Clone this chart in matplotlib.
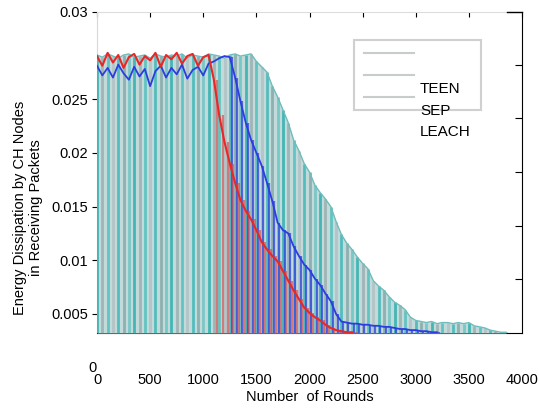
import numpy as np
import matplotlib.pyplot as plt
from matplotlib.patches import Rectangle

plt.rcParams['font.family'] = ['Liberation Sans', 'DejaVu Sans']

teen_rounds = np.arange(0, 3851, 50)
teen_energy = [
    0.0291, 0.0289, 0.0292, 0.0290, 0.0288, 0.0291, 0.0292, 0.0289, 0.0290, 0.0291,
    0.0288, 0.0292, 0.0290, 0.0289, 0.0291, 0.0290, 0.0292, 0.0288, 0.0291, 0.0290,
    0.0289, 0.0292, 0.0291, 0.0290, 0.0288, 0.0291, 0.0292, 0.0290, 0.0291,
    0.0292, 0.0285, 0.0280, 0.0275, 0.0262, 0.0252, 0.0240, 0.0228, 0.0212, 0.0202,
    0.0190, 0.0182, 0.0170, 0.0163, 0.0157, 0.0150, 0.0136, 0.0124, 0.0116, 0.0110,
    0.0103, 0.0097, 0.0092, 0.0081, 0.0076, 0.0072, 0.0066, 0.0061, 0.0058, 0.0054,
    0.0047, 0.0044, 0.0043, 0.0042, 0.0043, 0.0041, 0.0042, 0.0042, 0.0041, 0.0042,
    0.0041, 0.0042, 0.0039, 0.0038, 0.0037, 0.0035, 0.0034, 0.0033, 0.0033,
]

# SEP (azul)
sep_rounds = np.arange(0, 3201, 50)
sep_energy = [
    0.0281, 0.0272, 0.0279, 0.0270, 0.0282, 0.0274, 0.0268, 0.0280, 0.0271, 0.0278,
    0.0262, 0.0276, 0.0281, 0.0270, 0.0279, 0.0273, 0.0282, 0.0269, 0.0277, 0.0280,
    0.0272, 0.0283, 0.0285, 0.0288, 0.0290,
    0.0289, 0.0270, 0.0248, 0.0228, 0.0212, 0.0200, 0.0188, 0.0172, 0.0155, 0.0135,
    0.0128, 0.0125, 0.0113, 0.0104, 0.0096, 0.0091, 0.0083, 0.0077, 0.0069, 0.0062,
    0.0050, 0.0043, 0.0042, 0.0041, 0.0041, 0.0040, 0.0040, 0.0039, 0.0039, 0.0038,
    0.0038, 0.0037, 0.0036, 0.0036, 0.0035, 0.0035, 0.0034, 0.0034, 0.0033, 0.0033,
]
sep_drop_start = 1250

# LEACH (vermelho)
leach_rounds = np.arange(0, 2401, 50)
leach_energy = [
    0.0290, 0.0281, 0.0293, 0.0284, 0.0291, 0.0279, 0.0289, 0.0292, 0.0282, 0.0290,
    0.0286, 0.0293, 0.0280, 0.0291, 0.0287, 0.0293, 0.0283, 0.0290, 0.0292, 0.0281,
    0.0289, 0.0291,
    0.0268, 0.0235, 0.0210, 0.0190, 0.0172, 0.0156, 0.0146, 0.0138, 0.0128, 0.0117,
    0.0110, 0.0104, 0.0099, 0.0090, 0.0081, 0.0072, 0.0064, 0.0056, 0.0051, 0.0047,
    0.0044, 0.0040, 0.0037, 0.0035, 0.0034, 0.0033, 0.0033,
]
leach_drop_start = 1100

y_ticks = [0.005, 0.01, 0.015, 0.02, 0.025]
y_tick_labels = ['0.005', '0.01', '0.015', '0.02', '0.025']
right_ticks = [0.00827, 0.0132, 0.01823, 0.02326, 0.02819]
x_ticks = [0, 500, 1000, 1500, 2000, 2500, 3000, 3500, 4000]

ybot, ytop = 0.00323, 0.0331

fig = plt.figure(figsize=(5.39, 4.08), dpi=100)
ax = fig.add_axes([97 / 539, 75 / 408, 425 / 539, 321 / 408])
ax.set_xlim(0, 4000)
ax.set_ylim(ybot, ytop)

# fundo das barras do TEEN
ax.fill_between(teen_rounds, ybot, teen_energy, color='#c2dada', lw=0, zorder=2.6)

# hastes TEEN
cores_teen = ['#45b5b5', '#a0b6b6', '#62c4c2', '#b4c4c8', '#55bcbc', '#8fb0b0', '#78c8c6']
cols = [cores_teen[i % len(cores_teen)] for i in range(len(teen_rounds))]
ax.vlines(teen_rounds, ybot, teen_energy, colors=cols, lw=2.0, zorder=3)

# hastes SEP
sep_r = np.array(sep_rounds)
sep_e = np.array(sep_energy)
m = sep_r >= sep_drop_start
ax.vlines(sep_r[m] + 17, ybot, sep_e[m], colors='#2a3fe0', lw=1.6, alpha=0.75, zorder=3.1)

# hastes LEACH
leach_r = np.array(leach_rounds)
leach_e = np.array(leach_energy)
m = leach_r >= leach_drop_start
ax.vlines(leach_r[m] + 33, ybot, leach_e[m], colors='#d84848', lw=1.6, alpha=0.65, zorder=3.2)

# contornos
ax.plot(teen_rounds, teen_energy, color='#70bcbc', lw=1.0, zorder=3.3)
ax.plot(sep_rounds, sep_energy, color='#2b3de0', lw=1.3, zorder=3.4)
ax.plot(leach_rounds, leach_energy, color='#e82828', lw=1.5, zorder=3.5)

# eixos
ax.set_yticks(y_ticks + [ytop])
ax.set_yticklabels(y_tick_labels + ['0.03'], fontsize=10.5)
for t in ax.yaxis.get_major_ticks():
    t.tick1line.set_visible(False)
ax.tick_params(axis='y', pad=3)

ax.set_xticks(x_ticks)
ax.set_xticklabels([str(v) for v in x_ticks], fontsize=10.5)
ax.tick_params(axis='x', top=True, direction='in', length=3.5, width=0.8, pad=29)
for t in ax.xaxis.get_major_ticks():
    t.tick1line.set_visible(False)

ax2 = ax.twinx()
ax2.set_ylim(ybot, ytop)
ax2.set_yticks(right_ticks)
ax2.set_yticklabels([])
ax2.tick_params(axis='y', direction='in', length=5, width=0.8)
for s in ax2.spines.values():
    s.set_visible(False)

ax.spines['left'].set_color('#d8d8d8')
ax.spines['top'].set_color('#dddddd')
ax.spines['right'].set_color('black')
ax.spines['bottom'].set_color('black')
ax.plot([0.965, 1.0], [1.0, 1.0], transform=ax.transAxes, color='black', lw=1, clip_on=False, zorder=5)

ax.set_xlabel('Number  of Rounds', fontsize=10.5, labelpad=2)
fig.text(28 / 539, 1 - 208 / 408, 'Energy Dissipation by CH Nodes\nin Receiving Packets',
         rotation=90, ha='center', va='center', fontsize=10.5, multialignment='center')
fig.text(97 / 539, 1 - 368 / 408, '0', ha='right', va='center', fontsize=10.5)

# legenda (desenhada a mao, com os textos deslocados como no original)
ax.add_patch(Rectangle((0.605, 0.695), 0.299, 0.218, transform=ax.transAxes,
                       facecolor='white', edgecolor='#d0d0d0', lw=1.5, zorder=6))
for yl in [0.872, 0.804, 0.735]:
    ax.plot([0.628, 0.746], [yl, yl], transform=ax.transAxes, color='#c8cccc', lw=1.5, zorder=7)
for yt, lab in zip([0.760, 0.693, 0.626], ['TEEN', 'SEP', 'LEACH']):
    ax.text(0.760, yt, lab, transform=ax.transAxes, fontsize=11, va='center', ha='left', zorder=8)

plt.savefig('out.png', dpi=100)
